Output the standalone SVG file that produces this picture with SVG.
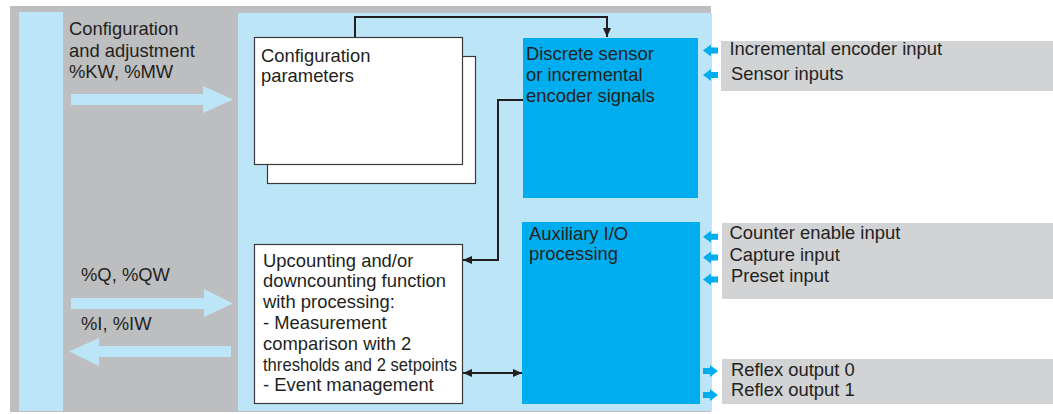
<svg xmlns="http://www.w3.org/2000/svg" xmlns:xlink="http://www.w3.org/1999/xlink" width="1053" height="414" viewBox="0 0 1053 414">
<style>
  text { font-family: "Liberation Sans", Arial, sans-serif; font-size: 18.4px; fill: #231f20; }
  .bg { fill: #bcbec0; }
  .lb { fill: #bde5f8; }
  .db { fill: #00aeef; }
  .lab { fill: #d1d3d4; }
  .wbox { fill: #ffffff; stroke: #3a3a3c; stroke-width: 1.2; }
  .conn { fill: none; stroke: #231f20; stroke-width: 2; }
  .sa { fill: #00aeef; }
</style>
<defs>
  <marker id="ah" markerUnits="userSpaceOnUse" markerWidth="11" markerHeight="9" refX="9" refY="4.5" orient="auto-start-reverse" viewBox="0 0 11 9">
    <path d="M0,0.5 L9,4.5 L0,8.5 z" fill="#231f20"/>
  </marker>
  <polygon id="inArrow" points="0,0 8,-6 8,-3 15,-3 15,3 8,3 8,6"/>
  <polygon id="outArrow" points="15,0 7,-6 7,-3 0,-3 0,3 7,3 7,6"/>
</defs>

<g id="background">
  <rect class="bg" x="10" y="6" width="701" height="406"/>
  <rect class="lb" x="19" y="12" width="44" height="399"/>
  <rect class="lb" x="238" y="13" width="474" height="398"/>
</g>

<g id="plc-arrows">
  <polygon class="lb" points="71,94 203,94 203,86 233,99.5 203,113 203,105 71,105"/>
  <polygon class="lb" points="71,298 204,298 204,289 233,303.5 204,317 204,309 71,309"/>
  <polygon class="lb" points="231,346 99,346 99,338 69,351.5 99,366 99,357 231,357"/>
  <text x="69" y="35.3">Configuration</text>
  <text x="69" y="56.8">and adjustment</text>
  <text x="69" y="78.3">%KW, %MW</text>
  <text x="81" y="281">%Q, %QW</text>
  <text x="81" y="330">%I, %IW</text>
</g>

<g id="config-params">
  <rect class="wbox" x="267.5" y="56.5" width="208" height="127"/>
  <rect class="wbox" x="254.5" y="37.5" width="208" height="127"/>
  <text x="261" y="61.7">Configuration</text>
  <text x="261" y="82">parameters</text>
</g>

<g id="discrete-sensor">
  <rect class="db" x="523" y="38" width="175" height="160"/>
  <text x="526" y="60">Discrete sensor</text>
  <text x="526" y="81">or incremental</text>
  <text x="526" y="102">encoder signals</text>
</g>

<g id="auxiliary-io">
  <rect class="db" x="522" y="222" width="178" height="182"/>
  <text x="529" y="239.5">Auxiliary I/O</text>
  <text x="529" y="260">processing</text>
</g>

<g id="counting-function">
  <rect class="wbox" x="254.5" y="244.5" width="208" height="159"/>
  <text x="263" y="266.5">Upcounting and/or</text>
  <text x="263" y="287.3">downcounting function</text>
  <text x="263" y="308.1">with processing:</text>
  <text x="263" y="328.9">- Measurement</text>
  <text x="263" y="349.7">comparison with 2</text>
  <text x="263" y="370.5" textLength="194" lengthAdjust="spacingAndGlyphs">thresholds and 2 setpoints</text>
  <text x="263" y="391.3">- Event management</text>
</g>

<g id="connectors">
  <path class="conn" d="M355,37 V17 H607 V37" marker-end="url(#ah)"/>
  <path class="conn" d="M523,100 H498 V260 H463" marker-end="url(#ah)"/>
  <path class="conn" d="M463,373 H522" marker-start="url(#ah)" marker-end="url(#ah)"/>
</g>

<g id="sensor-inputs">
  <rect class="lab" x="721" y="41" width="332" height="50"/>
  <use href="#inArrow" class="sa" x="703" y="50.5"/>
  <use href="#inArrow" class="sa" x="703" y="75"/>
  <text x="729.5" y="55">Incremental encoder input</text>
  <text x="731" y="80">Sensor inputs</text>
</g>

<g id="aux-inputs">
  <rect class="lab" x="722" y="223" width="331" height="76"/>
  <use href="#inArrow" class="sa" x="703" y="236.7"/>
  <use href="#inArrow" class="sa" x="703" y="257.5"/>
  <use href="#inArrow" class="sa" x="703" y="279.5"/>
  <text x="729.5" y="239">Counter enable input</text>
  <text x="729.5" y="260.5">Capture input</text>
  <text x="731" y="282.3">Preset input</text>
</g>

<g id="reflex-outputs">
  <rect class="lab" x="722" y="359" width="331" height="45"/>
  <use href="#outArrow" class="sa" x="703" y="371"/>
  <use href="#outArrow" class="sa" x="703" y="395"/>
  <text x="731" y="375.7">Reflex output 0</text>
  <text x="731" y="395.7">Reflex output 1</text>
</g>
</svg>
